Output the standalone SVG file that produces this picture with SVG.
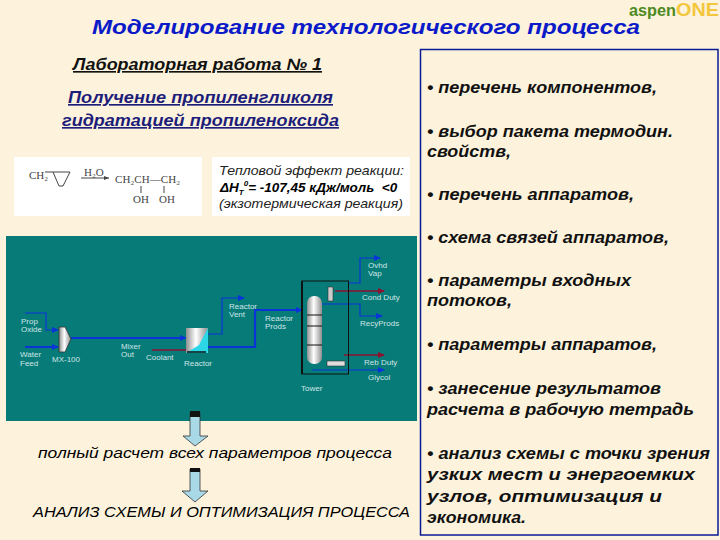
<svg xmlns="http://www.w3.org/2000/svg" width="720" height="540" viewBox="0 0 720 540">
<style>
text{font-family:"Liberation Sans",Arial,sans-serif}
.t{font-weight:bold;font-style:italic;font-size:16.5px}
.h{font-weight:bold;font-style:italic;font-size:16.5px;fill:#111}
.n{font-size:8px;fill:#cfe6e6}
.c{font-family:"Liberation Serif",serif;font-size:11px;fill:#444}
.b{stroke:#0a34d8;stroke-width:1.2;fill:none}
.bb{stroke:#0a34d8;stroke-width:2.2;fill:none}
.r{stroke:#8c1230;stroke-width:1.6;fill:none}
.a{fill:#a9d8e6;stroke:#333;stroke-width:.8}
</style>
<defs>
<linearGradient id="g" x1="0" x2="1" y1="0" y2="0"><stop offset="0" stop-color="#8f8f8f"/><stop offset=".45" stop-color="#fff"/><stop offset="1" stop-color="#8f8f8f"/></linearGradient>
<marker id="mb" markerUnits="userSpaceOnUse" markerWidth="7" markerHeight="6" refX="6" refY="3" orient="auto"><path d="M0 0L7 3L0 6Z" fill="#0a34d8"/></marker>
<marker id="mr" markerUnits="userSpaceOnUse" markerWidth="7" markerHeight="6" refX="6" refY="3" orient="auto"><path d="M0 0L7 3L0 6Z" fill="#8c1230"/></marker>
</defs>
<rect width="720" height="540" fill="#fdf3dc"/>
<g id="title"><text x="92" y="34" font-size="20.5" font-weight="bold" font-style="italic" fill="#0a1ac8" textLength="548" lengthAdjust="spacingAndGlyphs">Моделирование технологического процесса</text></g>
<g id="logo"><text x="629" y="16" font-size="17" font-weight="bold" fill="#4e8a22" textLength="47" lengthAdjust="spacingAndGlyphs">aspen</text><text x="676" y="16" font-size="19" font-weight="bold" fill="#f4c63c" textLength="43" lengthAdjust="spacingAndGlyphs">ONE</text></g>
<g id="subtitle">
<text class="t" x="73" y="70" fill="#111" text-decoration="underline" textLength="249" lengthAdjust="spacingAndGlyphs">Лабораторная работа № 1</text>
<text class="t" x="68" y="103" fill="#1d1d7a" text-decoration="underline" textLength="265" lengthAdjust="spacingAndGlyphs">Получение пропиленгликоля</text>
<text class="t" x="62" y="126" fill="#1d1d7a" text-decoration="underline" textLength="277" lengthAdjust="spacingAndGlyphs">гидратацией пропиленоксида</text>
</g>
<g id="reaction">
<rect x="14" y="157" width="188" height="59" fill="#fff"/>
<text class="c" x="29" y="179">CH₂</text>
<path d="M45 172H70L63 186H59L53 172" fill="none" stroke="#444"/>
<text class="c" x="84" y="176" font-size="9">H₂O</text>
<path d="M81 178H109" stroke="#444"/>
<path d="M104 176L109 178L104 180Z" fill="#444"/>
<text class="c" x="115" y="183" textLength="65">CH₂CH—CH₂</text>
<path d="M141 186V193M164 186V193" stroke="#444"/>
<text class="c" x="133" y="203">OH</text><text class="c" x="159" y="203">OH</text>
</g>
<g id="heat">
<rect x="212" y="157" width="198" height="59" fill="#fff"/>
<text x="219" y="175" font-size="13.5" font-style="italic" fill="#222" textLength="185" lengthAdjust="spacingAndGlyphs">Тепловой эффект реакции:</text>
<text x="220" y="192" font-size="13.5" font-style="italic" font-weight="bold">ΔH<tspan font-size="8" dy="3">T</tspan><tspan font-size="8" dy="-9">0</tspan><tspan dy="6" xml:space="preserve">= -107,45 кДж/моль  &lt;0</tspan></text>
<text x="219" y="208" font-size="13.5" font-style="italic" fill="#222" textLength="184" lengthAdjust="spacingAndGlyphs">(экзотермическая реакция)</text>
</g>
<g id="list-frame"><rect x="420.500" y="49.500" width="297.500" height="485.500" fill="#fdf3dc" stroke="#0a1a96" stroke-width="1.5"/></g>
<g id="list">
<text class="h" x="427" y="93" textLength="230" lengthAdjust="spacingAndGlyphs">• перечень компонентов,</text>
<text class="h" x="427" y="137" textLength="246" lengthAdjust="spacingAndGlyphs">• выбор пакета термодин.</text>
<text class="h" x="427" y="157" textLength="84" lengthAdjust="spacingAndGlyphs">свойств,</text>
<text class="h" x="427" y="200" textLength="207" lengthAdjust="spacingAndGlyphs">• перечень аппаратов,</text>
<text class="h" x="427" y="243" textLength="242" lengthAdjust="spacingAndGlyphs">• схема связей аппаратов,</text>
<text class="h" x="427" y="286" textLength="204" lengthAdjust="spacingAndGlyphs">• параметры входных</text>
<text class="h" x="427" y="306" textLength="85" lengthAdjust="spacingAndGlyphs">потоков,</text>
<text class="h" x="427" y="350" textLength="230" lengthAdjust="spacingAndGlyphs">• параметры аппаратов,</text>
<text class="h" x="427" y="394" textLength="234" lengthAdjust="spacingAndGlyphs">• занесение результатов</text>
<text class="h" x="427" y="415" textLength="267" lengthAdjust="spacingAndGlyphs">расчета в рабочую тетрадь</text>
<text class="h" x="427" y="459" textLength="283" lengthAdjust="spacingAndGlyphs">• анализ схемы с точки зрения</text>
<text class="h" x="427" y="480" textLength="268" lengthAdjust="spacingAndGlyphs">узких мест и энергоемких</text>
<text class="h" x="427" y="502" textLength="235" lengthAdjust="spacingAndGlyphs">узлов, оптимизация и</text>
<text class="h" x="427" y="523" textLength="99" lengthAdjust="spacingAndGlyphs">экономика.</text>
</g>
<rect x="6" y="236" width="411" height="185" fill="#077b78"/>
<g id="connectors">
<path class="b" d="M25 313H46V330H58" marker-end="url(#mb)"/>
<path class="bb" d="M25 347H58" marker-end="url(#mb)"/>
<path class="bb" d="M71 338H186" marker-end="url(#mb)"/>
<path class="r" d="M152 350H186"/>
<path class="b" d="M196 334H222V298H244" marker-end="url(#mb)"/>
<path class="bb" d="M207 347H255V310H302" marker-end="url(#mb)"/>
<path class="b" d="M348 283H360V258H380" marker-end="url(#mb)"/>
<path class="r" d="M335 291H384" marker-end="url(#mr)"/>
<path class="b" d="M322 304H360V316H382" marker-end="url(#mb)"/>
<path class="r" d="M344 355H384" marker-end="url(#mr)"/>
<path class="b" d="M312 370H384" marker-end="url(#mb)"/>
</g>
<g id="mixer"><path d="M59 327H65L71 339L65 352H59Z" fill="url(#g)" stroke="#333" stroke-width=".8"/></g>
<g id="reactor"><rect x="186" y="328" width="22" height="25" fill="#2cd8e8"/><path d="M186 328H208L199 345L186 353Z" fill="url(#g)"/><path d="M187 352H206" stroke="#111" stroke-width="1.500"/></g>
<g id="tower">
<rect x="302" y="281" width="46.500" height="93" fill="none" stroke="#111"/>
<path d="M302 281V374" stroke="#111" stroke-width="2"/>
<rect x="307" y="296" width="15" height="68" rx="7" fill="url(#g)"/>
<path d="M307 315H322M307 326H322M307 345H322" stroke="#111"/>
<rect x="328" y="287" width="5" height="14" fill="#ccc" stroke="#333" stroke-width=".6"/>
<rect x="327" y="361" width="18" height="5" fill="#ddd" stroke="#333" stroke-width=".6"/>
</g>
<g id="labels">
<text class="n" x="21" y="324">Prop</text><text class="n" x="21" y="332">Oxide</text>
<text class="n" x="20" y="357">Water</text><text class="n" x="20" y="366">Feed</text>
<text class="n" x="52" y="362">MX-100</text>
<text class="n" x="121" y="349">Mixer</text><text class="n" x="121" y="357">Out</text>
<text class="n" x="146" y="360">Coolant</text><text class="n" x="184" y="366">Reactor</text>
<text class="n" x="229" y="309">Reactor</text><text class="n" x="229" y="317">Vent</text>
<text class="n" x="265" y="321">Reactor</text><text class="n" x="265" y="329">Prods</text>
<text class="n" x="368" y="268">Ovhd</text><text class="n" x="368" y="276">Vap</text>
<text class="n" x="362" y="300">Cond Duty</text><text class="n" x="360" y="326">RecyProds</text>
<text class="n" x="364" y="365">Reb Duty</text><text class="n" x="368" y="380">Glycol</text>
<text class="n" x="301" y="391">Tower</text>
</g>
<g id="arrow1"><path class="a" d="M190 413H200V436H208L195 446L183 436H190Z"/><path d="M190 411H200V417H190Z" fill="#111"/></g>
<g id="arrow2"><path class="a" d="M190 469H200V491H208L195 502L182 491H190Z"/><path d="M190 468H200V472H190Z" fill="#111"/></g>
<g id="results">
<text x="38" y="458" font-size="15" font-style="italic" textLength="354" lengthAdjust="spacingAndGlyphs">полный расчет всех параметров процесса</text>
<text x="33" y="517" font-size="14.500" font-style="italic" textLength="377" lengthAdjust="spacingAndGlyphs">АНАЛИЗ СХЕМЫ И ОПТИМИЗАЦИЯ ПРОЦЕССА</text>
</g>
</svg>
